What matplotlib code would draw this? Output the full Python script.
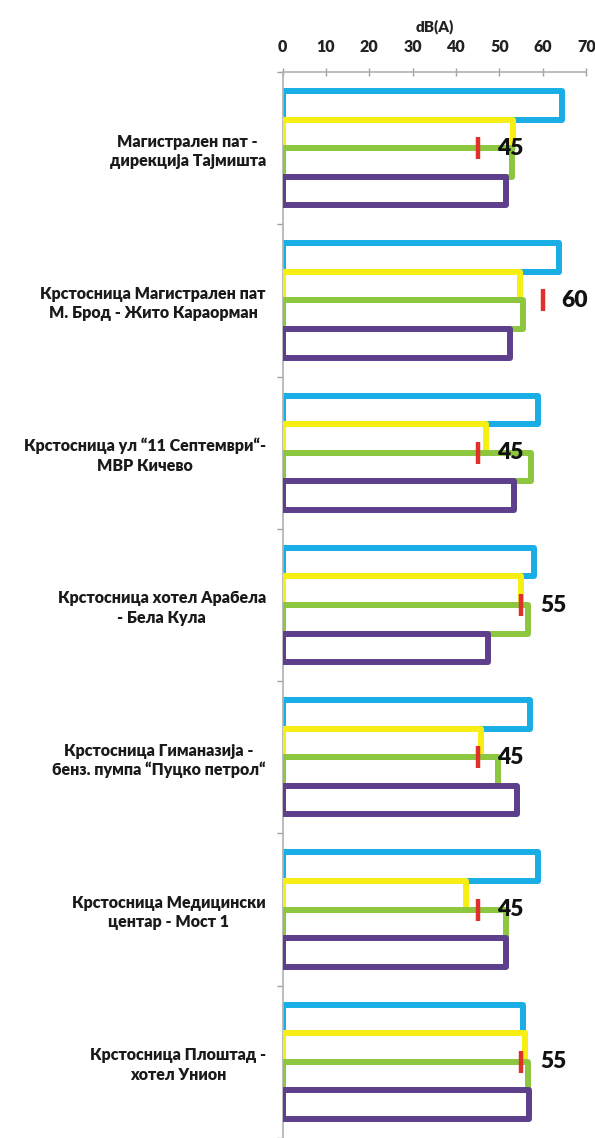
import matplotlib
matplotlib.use("Agg")
import matplotlib.pyplot as plt
import numpy as np

plt.rcParams['font.family'] = ['Lato', 'Open Sans', 'DejaVu Sans']

categories = [
    "Магистрален пат -\nдирекција Тајмишта",
    "Крстосница Магистрален пат\nМ. Брод - Жито Караорман",
    "Крстосница ул “11 Септември“-\nМВР Кичево",
    "Крстосница хотел Арабела\n- Бела Кула",
    "Крстосница Гиманазија -\nбенз. пумпа “Пуцко петрол“",
    "Крстосница Медицински\nцентар - Мост 1",
    "Крстосница Плоштад -\nхотел Унион",
]
series_blue = [64.5, 63.7, 58.8, 58.0, 57.0, 58.8, 55.5]
series_yellow = [53.0, 54.7, 47.0, 55.0, 45.7, 42.2, 55.9]
series_green = [52.8, 55.3, 57.2, 56.5, 49.6, 51.4, 56.5]
series_purple = [51.6, 52.4, 53.3, 47.3, 54.1, 51.4, 56.8]
limits = [45, 60, 45, 55, 45, 45, 55]
xticks = [0, 10, 20, 30, 40, 50, 60, 70]
axis_title = "dB(A)"

colors = ["#19aee6", "#f7ee14", "#8dc63f", "#5e3f8c"]
series = [series_blue, series_yellow, series_green, series_purple]

fig = plt.figure(figsize=(5.95, 11.38), dpi=100)
W, H = 595, 1138
ax = fig.add_axes([282.5 / W, 0, (586.3 - 282.5) / W, (H - 72) / H])

n = len(categories)
ypos = np.arange(n)
h = 0.1875
offsets = [-1.5 * h, -0.5 * h, 0.5 * h, 1.5 * h]
for k, (vals, c, off) in enumerate(zip(series, colors, offsets)):
    ax.barh(ypos + off, vals, height=h, left=0, color="white", edgecolor=c,
            linewidth=4.3, joinstyle="round", zorder=2 + k)

for i, lim in enumerate(limits):
    yc = ypos[i]
    ax.plot([lim, lim], [yc - 0.072, yc + 0.072], color="#e0302c", lw=3.2,
            solid_capstyle="butt", zorder=10)
    ax.annotate(str(lim), xy=(lim, yc), xytext=(13.5, 0), textcoords="offset points",
                ha="left", va="center", fontsize=16.5, fontweight="heavy",
                color="#111111", zorder=11)

ax.set_xlim(0, 70)
ax.set_ylim(n - 0.5, -0.5)
ax.xaxis.tick_top()
ax.xaxis.set_label_position("top")
ax.set_xticks(xticks)
ax.set_xticklabels([str(t) for t in xticks], fontsize=11.5, fontweight="heavy", color="#222222")
ax.tick_params(axis="x", direction="inout", length=6, width=1, color="#a0a0a0", pad=9)
ax.set_xlabel(axis_title, fontsize=11, fontweight="heavy", color="#222222", labelpad=6)

ax.set_yticks(ypos)
ax.set_yticklabels(categories, fontsize=11.5, fontweight="heavy", color="#1a1a1a",
                   multialignment="center", linespacing=1.25)
ax.tick_params(axis="y", which="major", length=0, pad=12)
ax.set_yticks(np.arange(n + 1) - 0.5, minor=True)
ax.tick_params(axis="y", which="minor", length=4, width=1, color="#a0a0a0", direction="out")

for s in ["right", "bottom"]:
    ax.spines[s].set_visible(False)
for s in ["left", "top"]:
    ax.spines[s].set_color("#b0b0b0")
    ax.spines[s].set_linewidth(1.2)

fig.savefig("out.png", dpi=100, facecolor="white")
